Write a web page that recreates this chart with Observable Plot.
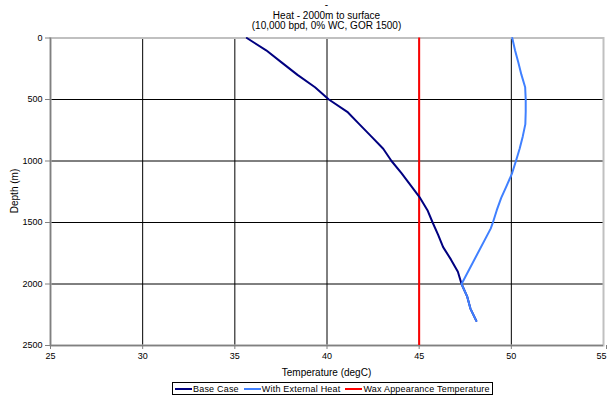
<!DOCTYPE html>
<html>
<head>
<meta charset="utf-8">
<script src="https://cdn.jsdelivr.net/npm/d3@7"></script>
<script src="https://cdn.jsdelivr.net/npm/@observablehq/plot@0.6"></script>
<style>
  html, body { margin: 0; padding: 0; background: #fff; }
  body { font-family: "Liberation Sans", Arial, sans-serif; }
  #wrap { position: relative; width: 607px; height: 395px; overflow: hidden; }
  #title { position: absolute; left: 50px; width: 553px; top: 0; text-align: center; font-size: 10px; line-height: 10.7px; color: #000; }
  #xlabel { position: absolute; left: 50px; width: 553px; top: 367px; text-align: center; font-size: 10px; color: #000; }
  #ylabel { position: absolute; left: 14px; top: 191px; transform: translate(-50%, -50%) rotate(-90deg); font-size: 10px; white-space: nowrap; color: #000; }
  #legend { position: absolute; left: 172px; top: 382px; width: 319px; height: 11px; border: 1px solid #000; box-sizing: content-box; font-size: 9px; display: flex; align-items: center; white-space: nowrap; letter-spacing: 0.2px; }
  .sw { display: inline-block; width: 17px; height: 2px; margin-left: 2px; margin-right: 1px; }
  .it { display: inline-flex; align-items: center; margin-right: 3px; }
  #plot { position: absolute; left: 0; top: 0; }
</style>
</head>
<body>
<div id="wrap">
  <div id="plot"></div>
  <div id="title">-<br>Heat - 2000m to surface<br>(10,000 bpd, 0% WC, GOR 1500)</div>
  <div id="ylabel">Depth (m)</div>
  <div id="xlabel">Temperature (degC)</div>
  <div id="legend"></div>
</div>
<script>
// ---- data ----
const seriesNames = ["Base Case", "With External Heat", "Wax Appearance Temperature"];
const seriesColors = ["#000080", "#4080FF", "#FF0000"];

const baseDepth = [0, 100, 200, 300, 400, 500, 600, 700, 800, 900, 1000, 1100, 1200, 1300, 1400, 1500, 1600, 1700, 1800, 1900, 2000, 2100, 2200, 2300];
const baseTemp  = [35.65, 36.7, 37.55, 38.4, 39.35, 40.1, 41.1, 41.75, 42.4, 43.05, 43.5, 44.05, 44.55, 45.05, 45.45, 45.73, 46.03, 46.3, 46.72, 47.1, 47.3, 47.6, 47.78, 48.1];

const heatDepth = [0, 100, 200, 300, 400, 500, 600, 700, 800, 900, 1000, 1100, 1200, 1300, 1400, 1500, 1550, 2000, 2100, 2200, 2300];
const heatTemp  = [50.05, 50.2, 50.38, 50.55, 50.75, 50.78, 50.78, 50.76, 50.62, 50.45, 50.25, 50.04, 49.75, 49.45, 49.21, 49.0, 48.88, 47.3, 47.6, 47.78, 48.1];

const waxTemp = [45];

const xTicks = [25, 30, 35, 40, 45, 50, 55];
const yTicks = [0, 500, 1000, 1500, 2000, 2500];

// ---- tables ----
const base = baseDepth.map((d, i) => ({depth: d, temp: baseTemp[i]}));
const heat = heatDepth.map((d, i) => ({depth: d, temp: heatTemp[i]}));
const fmt = d => String(d);

const chart = Plot.plot({
  width: 607,
  height: 380,
  marginTop: 37.5,
  marginBottom: 35,
  marginLeft: 50,
  marginRight: 4,
  style: {fontFamily: "'Liberation Sans', Arial, sans-serif", fontSize: "9px", color: "#000", background: "transparent"},
  x: {domain: [25, 55]},
  y: {domain: [0, 2500], reverse: true},
  marks: [
    Plot.gridX(xTicks.slice(1, -1), {stroke: "#000", strokeOpacity: 1, strokeWidth: 1}),
    Plot.gridY(yTicks.slice(1, -1), {stroke: "#000", strokeOpacity: 1, strokeWidth: 1}),
    Plot.frame({stroke: "#c0c0c0", strokeWidth: 2}),
    Plot.ruleX([25], {stroke: "#808080", strokeWidth: 1.5}),
    Plot.ruleY([2500], {stroke: "#808080", strokeWidth: 1.5}),
    Plot.axisY({ticks: yTicks, tickSize: 5, tickPadding: 3, tickFormat: fmt, label: null, stroke: "#808080", fontSize: 9}),
    Plot.axisX({ticks: xTicks.slice(0, -1), tickSize: 4, tickPadding: 3, tickFormat: fmt, label: null, stroke: "#808080", fontSize: 9}),
    Plot.axisX({ticks: xTicks.slice(-1), tickSize: 4, tickPadding: 3, tickFormat: fmt, label: null, stroke: "#808080", fontSize: 9, textAnchor: "end", dx: 3}),
    Plot.ruleX(waxTemp, {stroke: seriesColors[2], strokeWidth: 2}),
    Plot.line(base, {x: "temp", y: "depth", stroke: seriesColors[0], strokeWidth: 2}),
    Plot.line(heat, {x: "temp", y: "depth", stroke: seriesColors[1], strokeWidth: 2})
  ]
});
document.getElementById("plot").appendChild(chart);

const leg = document.getElementById("legend");
seriesNames.forEach((n, i) => {
  const it = document.createElement("span");
  it.className = "it";
  const sw = document.createElement("span");
  sw.className = "sw";
  sw.style.background = seriesColors[i];
  it.appendChild(sw);
  it.appendChild(document.createTextNode(n));
  leg.appendChild(it);
});
</script>
</body>
</html>
